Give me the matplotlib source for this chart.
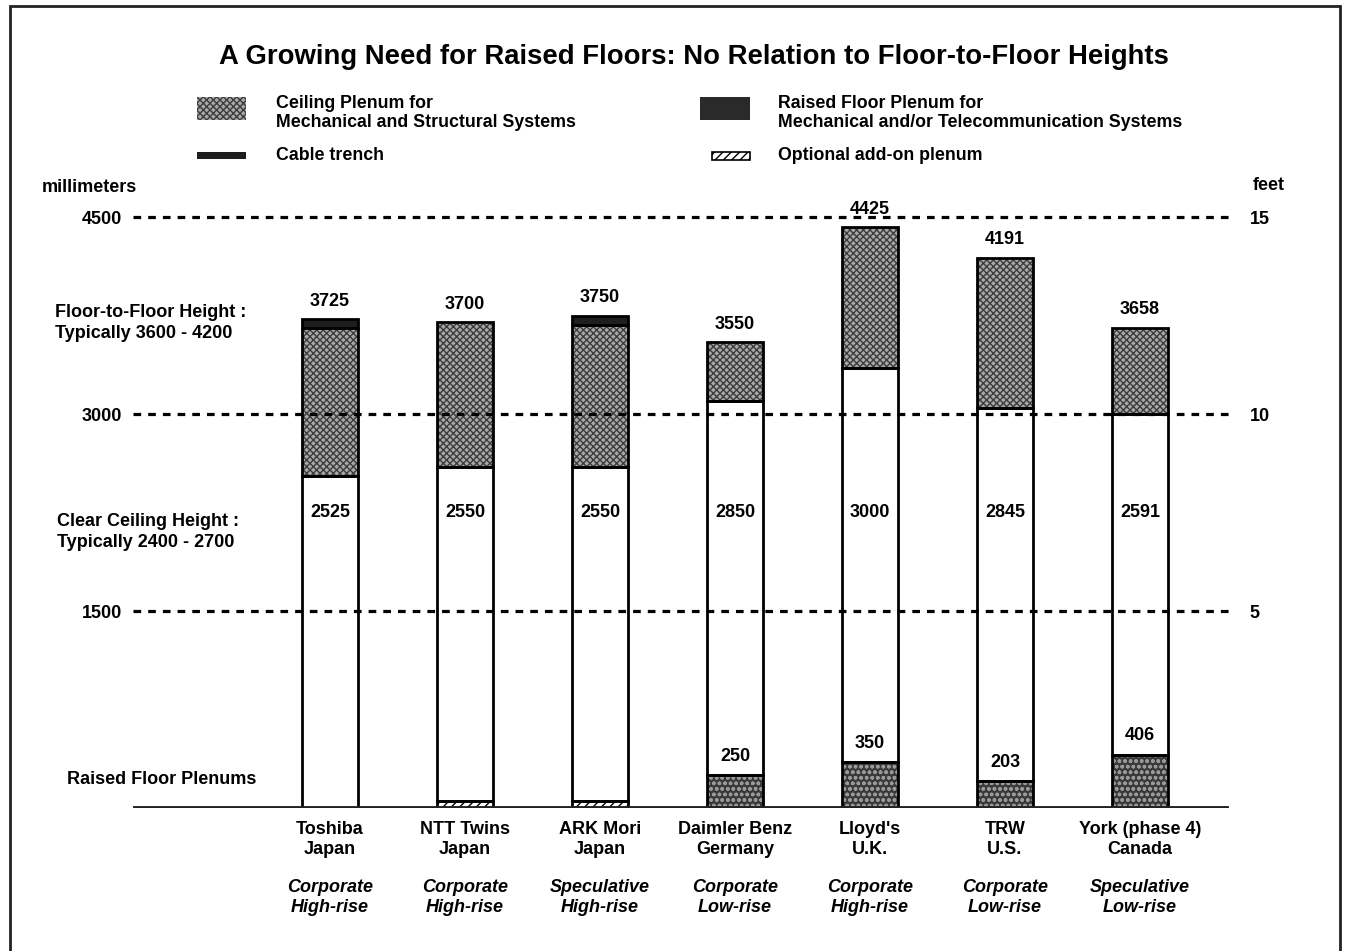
import numpy as np
import matplotlib
matplotlib.use("Agg")
import matplotlib.pyplot as plt
from matplotlib.patches import Rectangle

plt.rcParams['font.family'] = ['Liberation Sans', 'DejaVu Sans']
plt.rcParams['hatch.linewidth'] = 1.0

# data (mm)
buildings = ["Toshiba\nJapan", "NTT Twins\nJapan", "ARK Mori\nJapan", "Daimler Benz\nGermany",
             "Lloyd's\nU.K.", "TRW\nU.S.", "York (phase 4)\nCanada"]
building_types = ["Corporate\nHigh-rise", "Corporate\nHigh-rise", "Speculative\nHigh-rise",
                  "Corporate\nLow-rise", "Corporate\nHigh-rise", "Corporate\nLow-rise",
                  "Speculative\nLow-rise"]
floor_to_floor = [3725, 3700, 3750, 3550, 4425, 4191, 3658]
clear_height = [2525, 2550, 2550, 2850, 3000, 2845, 2591]
raised_floor = [0, 0, 0, 250, 350, 203, 406]
addon_plenum = [0, 50, 50, 0, 0, 0, 0]
cable_trench = [70, 0, 70, 0, 0, 0, 0]
mm_ticks = [1500, 3000, 4500]
feet_ticks = ["5", "10", "15"]

W, H = 1349, 951
fig = plt.figure(figsize=(W / 100, H / 100), dpi=100)


def fx(x):
    return x / W


def fy(y):
    return 1 - y / H


ax = fig.add_axes([fx(133), fy(808), fx(1233) - fx(133), 630.4 / H])
ax.set_ylim(0, 4800)
ax.set_xlim(-1.459, 6.689)
for s in ax.spines.values():
    s.set_visible(False)

x = np.arange(len(buildings))
ftf = np.array(floor_to_floor)
clear = np.array(clear_height)
raised = np.array(raised_floor)
addon = np.array(addon_plenum)
trench = np.array(cable_trench)
ceiling = ftf - raised - addon - clear - trench
bw = 0.41


def segment(bottom, height, face, hatch=None, hatch_col=None):
    ax.bar(x, height, bw, bottom=bottom, color=face, hatch=hatch,
           edgecolor=hatch_col if hatch else face, linewidth=0, zorder=2)
    mask = height > 0
    ax.bar(x[mask], height[mask], bw, bottom=bottom[mask], fill=False,
           edgecolor='black', linewidth=2, zorder=3)


b = np.zeros(len(x))
segment(b, raised, '#3a3a3a', 'ooo', '#9a9a9a')
b = b + raised
segment(b, addon, 'white', '////', 'black')
b = b + addon
segment(b, clear, 'white')
b = b + clear
segment(b, ceiling, '#a8a8a8', 'xxxxx', '#3c3c3c')
b = b + ceiling
segment(b, trench, '#1e1e1e')

# grid lines and baseline
for t in mm_ticks:
    ax.axhline(t, color='black', linestyle=(0, (2.4, 2.2)), linewidth=2.3, zorder=5)
ax.axhline(0, xmin=0.002, xmax=0.994, color='#222', linewidth=3.5, zorder=6)

# value labels
fs = 13
for i in range(len(x)):
    ax.text(x[i], ftf[i] + 70, str(ftf[i]), ha='center', va='bottom',
            fontsize=fs, fontweight='bold')
    ax.text(x[i], 2250, str(clear[i]), ha='center', va='center',
            fontsize=fs, fontweight='bold', zorder=7)
    if raised[i] > 0:
        ax.text(x[i], raised[i] + 80, str(raised[i]), ha='center', va='bottom',
                fontsize=fs, fontweight='bold', zorder=7)

ax.set_xticks([])
ax.set_yticks(mm_ticks)
ax.set_yticklabels([str(t) for t in mm_ticks], fontsize=fs, fontweight='bold')
ax.tick_params(axis='y', length=0, pad=8)
ax2 = ax.twinx()
ax2.set_ylim(ax.get_ylim())
for s in ax2.spines.values():
    s.set_visible(False)
ax2.set_yticks(mm_ticks)
ax2.set_yticklabels(feet_ticks, fontsize=fs, fontweight='bold')
ax2.tick_params(axis='y', length=0, pad=12)

# category labels
for i in range(len(x)):
    ax.text(x[i], -100, buildings[i], ha='center', va='top', fontsize=fs,
            fontweight='bold', linespacing=1.2)
    ax.text(x[i], -540, building_types[i], ha='center', va='top', fontsize=fs,
            fontweight='bold', style='italic', linespacing=1.2)

# title and side texts
fig.text(fx(694), fy(57), "A Growing Need for Raised Floors: No Relation to Floor-to-Floor Heights",
         ha='center', va='center', fontsize=19.8, fontweight='bold')
fig.text(fx(42), fy(187), "millimeters", ha='left', va='center', fontsize=fs, fontweight='bold')
fig.text(fx(1253), fy(185), "feet", ha='left', va='center', fontsize=fs, fontweight='bold')
fig.text(fx(55), fy(323), "Floor-to-Floor Height :\nTypically 3600 - 4200", ha='left',
         va='center', fontsize=fs, fontweight='bold', linespacing=1.3)
fig.text(fx(57), fy(532), "Clear Ceiling Height :\nTypically 2400 - 2700", ha='left',
         va='center', fontsize=fs, fontweight='bold', linespacing=1.3)
fig.text(fx(67), fy(780), "Raised Floor Plenums", ha='left', va='center', fontsize=fs,
         fontweight='bold')

# legend
def swatch(x0, y0, x1, y1, face, hatch=None, hcol=None):
    fig.add_artist(Rectangle((fx(x0), fy(y1)), fx(x1) - fx(x0), fy(y0) - fy(y1),
                             transform=fig.transFigure, facecolor=face, hatch=hatch,
                             edgecolor=hcol if hatch else face, linewidth=0))


lfs = 12.8
swatch(197, 97, 246, 120, '#a8a8a8', 'xxxxx', '#3c3c3c')
fig.text(fx(276), fy(113), "Ceiling Plenum for\nMechanical and Structural Systems",
         ha='left', va='center', fontsize=lfs, fontweight='bold', linespacing=1.1)
swatch(700, 97, 750, 120, '#2a2a2a')
fig.text(fx(778), fy(113), "Raised Floor Plenum for\nMechanical and/or Telecommunication Systems",
         ha='left', va='center', fontsize=lfs, fontweight='bold', linespacing=1.1)
swatch(197, 152, 246, 159, '#1e1e1e')
fig.text(fx(276), fy(155), "Cable trench", ha='left', va='center', fontsize=lfs,
         fontweight='bold')
swatch(712, 152, 750, 160, 'white', '////', 'black')
fig.add_artist(Rectangle((fx(712), fy(160)), fx(750) - fx(712), fy(152) - fy(160),
                         transform=fig.transFigure, fill=False, edgecolor='black',
                         linewidth=1.2))
fig.text(fx(778), fy(156), "Optional add-on plenum", ha='left', va='center', fontsize=lfs,
         fontweight='bold')

# page frame
fig.add_artist(Rectangle((fx(10), -0.05), fx(1340) - fx(10), fy(6) + 0.05,
                         transform=fig.transFigure, fill=False, edgecolor='#222',
                         linewidth=2))

plt.savefig("out.png", dpi=100)
